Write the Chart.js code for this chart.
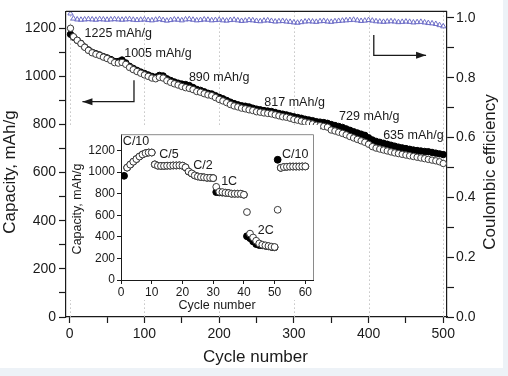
<!DOCTYPE html>
<html>
<head>
<meta charset="utf-8">
<script src="https://cdn.jsdelivr.net/npm/chart.js@4.4.1/dist/chart.umd.min.js"></script>
<style>
  html, body { margin: 0; padding: 0; background: #edf2f7; }
  #wrap { position: relative; width: 508px; height: 376px; overflow: hidden; }
  #main { position: absolute; left: 0; top: 0; }
  #inset { position: absolute; left: 70px; top: 125px; }
</style>
</head>
<body>
<div id="wrap">
  <canvas id="main" width="508" height="376"></canvas>
  <canvas id="inset" width="250" height="190"></canvas>
</div>
<script>
// ---- main plot data (every 5th cycle) ----
const cycles = [1,5,10,15,20,25,30,35,40,45,50,55,60,65,70,75,80,85,90,95,
  100,105,110,115,120,125,130,135,140,145,150,155,160,165,170,175,180,185,190,195,
  200,205,210,215,220,225,230,235,240,245,250,255,260,265,270,275,280,285,290,295,
  300,305,310,315,320,325,330,335,340,345,350,355,360,365,370,375,380,385,390,395,
  400,405,410,415,420,425,430,435,440,445,450,455,460,465,470,475,480,485,490,495,500];

const chargeCap = [1200,1165,1150,1136,1121,1108,1098,1092,1087,1080,
  1074,1066,1057,1055,1058,1050,1037,1028,1020,1013,
  1006,1000,993,990,996,993,982,975,969,964,
  958,953,950,945,937,934,928,923,920,912,
  904,898,891,883,877,873,868,865,861,858,
  853,851,848,846,844,840,836,832,830,826,
  821,818,814,810,806,802,797,795,792,789,
  777,773,768,763,757,750,744,738,732,726,
  718,708,702,698,694,690,686,682,679,676,
  673,670,667,664,661,658,655,652,649,645,
  638];

const dischargeCap = [1175,1163,1150,1137,1122,1110,1100,1094,1089,1082,
  1077,1070,1062,1062,1068,1056,1042,1033,1025,1018,
  1012,1006,1000,997,1004,1002,990,983,977,972,
  968,966,962,954,946,942,936,930,927,920,
  913,907,900,893,887,882,878,876,873,868,
  864,861,858,856,854,850,846,843,840,836,
  832,829,826,822,819,816,812,810,808,805,
  800,796,792,788,782,776,770,765,760,755,
  745,736,730,726,722,718,714,710,706,703,
  700,697,694,692,690,688,687,684,681,678,
  675];

const coulombicEff = [1.015,0.998,0.995,0.994,0.995,0.996,0.995,0.994,0.996,0.995,
  0.994,0.995,0.996,0.995,0.994,0.995,0.996,0.994,0.993,0.994,
  0.995,0.993,0.992,0.994,0.996,0.993,0.991,0.993,0.995,0.994,
  0.992,0.995,0.996,0.994,0.992,0.993,0.995,0.994,0.992,0.993,
  0.994,0.992,0.991,0.993,0.994,0.992,0.990,0.991,0.993,0.992,
  0.990,0.989,0.991,0.992,0.990,0.988,0.989,0.990,0.988,0.987,
  0.985,0.984,0.986,0.988,0.989,0.988,0.987,0.989,0.990,0.988,
  0.987,0.989,0.990,0.991,0.992,0.993,0.994,0.992,0.990,0.991,
  0.993,0.991,0.989,0.988,0.987,0.988,0.989,0.988,0.986,0.987,
  0.988,0.987,0.985,0.986,0.987,0.985,0.983,0.982,0.980,0.976,
  0.972];

const xMajor = [0,100,200,300,400,500];
const xMinor = [50,150,250,350,450];
const capMajor = [0,200,400,600,800,1000,1200];
const capMinor = [100,300,500,700,900,1100];
const ceMajor = [0,0.2,0.4,0.6,0.8,1.0];
const ceMinor = [0.1,0.3,0.5,0.7,0.9];

const capNotes = ['1225 mAh/g','1005 mAh/g','890 mAh/g','817 mAh/g','729 mAh/g','635 mAh/g'];

// ---- inset (rate test) data ----
const insetCycles = [1,2,3,4,5,6,7,8,9,10,11,12,13,14,15,16,17,18,19,20,
  21,22,23,24,25,26,27,28,29,30,31,32,33,34,35,36,37,38,39,40,
  41,42,43,44,45,46,47,48,49,50,51,52,53,54,55,56,57,58,59,60];
const insetCharge = [null,1042,1070,1097,1121,1145,1164,1176,1182,1182,
  1072,1060,1058,1058,1060,1060,1062,1062,1063,1060,
  1045,1006,988,970,960,955,952,948,948,945,
  864,818,815,809,806,800,800,800,800,791,
  630,430,394,364,339,327,321,315,309,306,
  651,1040,1048,1050,1052,1052,1052,1052,1053,1053];
const insetDischarge = [966,1042,1070,1097,1121,1145,1164,1176,1182,1182,
  1072,1060,1058,1058,1060,1060,1062,1062,1063,1060,
  1045,1006,988,970,960,955,952,948,948,945,
  815,812,810,809,806,800,800,800,800,791,
  406,388,358,333,324,322,317,312,307,303,
  1115,1040,1048,1050,1052,1052,1052,1052,1053,1053];
const insetXTicks = [0,10,20,30,40,50,60];
const insetYTicks = [0,200,400,600,800,1000,1200];
const rateNotes = ['C/10','C/5','C/2','1C','2C','C/10'];

// ---- placement of notes (data coordinates) ----
const capNotePos = [[65,1176],[118,1094],[200,995],[301,893],[401,831],[460,752]];
const rateNotePos = [[4.9,1282],[15.6,1166],[26.7,1061],[35.2,909],[47.1,461],[56.7,1166]];
const leftArrow = [[86,984],[86,895],[17,895]];      // cycle, capacity
const rightArrow = [[407,0.943],[407,0.875],[477,0.875]]; // cycle, CE

const FONT = "'Liberation Sans', Arial, sans-serif";
const INK = '#1a1a1a';

function pts(xs, ys) {
  return xs.map((x, i) => ({ x: x, y: ys[i] }));
}

function drawArrow(ctx, p) {
  ctx.beginPath();
  ctx.moveTo(p[0][0], p[0][1]);
  for (let i = 1; i < p.length; i++) ctx.lineTo(p[i][0], p[i][1]);
  ctx.stroke();
  const [x1, y1] = p[p.length - 2], [x2, y2] = p[p.length - 1];
  const a = Math.atan2(y2 - y1, x2 - x1);
  ctx.beginPath();
  ctx.moveTo(x2, y2);
  ctx.lineTo(x2 - 10 * Math.cos(a) + 3.5 * Math.sin(a), y2 - 10 * Math.sin(a) - 3.5 * Math.cos(a));
  ctx.lineTo(x2 - 10 * Math.cos(a) - 3.5 * Math.sin(a), y2 - 10 * Math.sin(a) + 3.5 * Math.cos(a));
  ctx.closePath();
  ctx.fill();
}

function vText(ctx, txt, x, y) {
  ctx.save();
  ctx.translate(x, y);
  ctx.rotate(-Math.PI / 2);
  ctx.fillText(txt, 0, 0);
  ctx.restore();
}

const mainDecor = {
  id: 'mainDecor',
  beforeDraw(chart) {
    const ctx = chart.ctx;
    ctx.save();
    ctx.fillStyle = '#edf2f7';
    ctx.fillRect(0, 0, chart.width, chart.height);
    ctx.fillStyle = '#ffffff';
    ctx.fillRect(0, 0, 503, 368);
    ctx.restore();
  },
  beforeDatasetsDraw(chart) {
    const ctx = chart.ctx, a = chart.chartArea, sx = chart.scales.x;
    ctx.save();
    ctx.strokeStyle = '#c4c4c4';
    ctx.lineWidth = 1;
    ctx.setLineDash([1.5, 2.5]);
    xMajor.forEach(v => {
      const px = Math.round(sx.getPixelForValue(v)) + 0.5;
      ctx.beginPath();
      ctx.moveTo(px, a.top);
      ctx.lineTo(px, a.bottom);
      ctx.stroke();
    });
    ctx.restore();
  },
  afterDraw(chart) {
    const ctx = chart.ctx, a = chart.chartArea;
    const sx = chart.scales.x, sy = chart.scales.y, s2 = chart.scales.y2;
    ctx.save();
    ctx.strokeStyle = INK;
    ctx.lineWidth = 1.2;
    ctx.beginPath();
    ctx.moveTo(a.left, a.top);
    ctx.lineTo(a.right, a.top);
    ctx.stroke();

    ctx.fillStyle = INK;
    ctx.font = '12.5px ' + FONT;
    ctx.textAlign = 'center';
    ctx.textBaseline = 'middle';
    capNotes.forEach((t, i) => {
      ctx.fillText(t, sx.getPixelForValue(capNotePos[i][0]), sy.getPixelForValue(capNotePos[i][1]));
    });

    ctx.lineWidth = 1.3;
    drawArrow(ctx, leftArrow.map(p => [sx.getPixelForValue(p[0]), sy.getPixelForValue(p[1])]));
    drawArrow(ctx, rightArrow.map(p => [sx.getPixelForValue(p[0]), s2.getPixelForValue(p[1])]));

    ctx.font = '17px ' + FONT;
    ctx.fillText('Cycle number', (a.left + a.right) / 2 - 1, 357);
    vText(ctx, 'Capacity, mAh/g', 10, 172);
    vText(ctx, 'Coulombic efficiency', 490, 172);
    ctx.restore();
  }
};

const insetDecor = {
  id: 'insetDecor',
  beforeDraw(chart) {
    const ctx = chart.ctx;
    ctx.save();
    ctx.fillStyle = '#ffffff';
    ctx.fillRect(0, 0, chart.width, 175);
    ctx.restore();
  },
  afterDraw(chart) {
    const ctx = chart.ctx, a = chart.chartArea;
    const sx = chart.scales.x, sy = chart.scales.y;
    ctx.save();
    ctx.strokeStyle = '#8a8a8a';
    ctx.lineWidth = 1;
    ctx.beginPath();
    ctx.moveTo(a.left, a.top + 0.5);
    ctx.lineTo(a.right + 0.5, a.top + 0.5);
    ctx.lineTo(a.right + 0.5, a.bottom);
    ctx.stroke();

    ctx.fillStyle = INK;
    ctx.font = '12.5px ' + FONT;
    ctx.textAlign = 'center';
    ctx.textBaseline = 'middle';
    rateNotes.forEach((t, i) => {
      ctx.fillText(t, sx.getPixelForValue(rateNotePos[i][0]), sy.getPixelForValue(rateNotePos[i][1]));
    });
    ctx.fillText('Cycle number', (a.left + a.right) / 2, 181);
    vText(ctx, 'Capacity, mAh/g', 8, 84);
    ctx.restore();
  }
};

const tickFont = { family: FONT, size: 14 };

new Chart(document.getElementById('main'), {
  type: 'scatter',
  data: {
    datasets: [
      { label: 'charge', data: pts(cycles, chargeCap), yAxisID: 'y',
        pointRadius: 3.2, pointBackgroundColor: '#ffffff', pointBorderColor: '#3a3a3a', pointBorderWidth: 1 },
      { label: 'discharge', data: pts(cycles, dischargeCap), yAxisID: 'y',
        pointRadius: 3.2, pointBackgroundColor: '#000000', pointBorderColor: '#000000', pointBorderWidth: 1 },
      { label: 'CE', data: pts(cycles, coulombicEff), yAxisID: 'y2', pointStyle: 'triangle',
        pointRadius: 3, pointBackgroundColor: 'rgba(255,255,255,0)', pointBorderColor: '#6f6fc8', pointBorderWidth: 1 }
    ]
  },
  options: {
    responsive: false,
    animation: false,
    events: [],
    layout: { padding: { top: 6, left: 0, right: 0, bottom: 0 } },
    plugins: { legend: { display: false }, tooltip: { enabled: false } },
    scales: {
      x: {
        type: 'linear', min: -5, max: 505,
        afterBuildTicks: s => { s.ticks = xMajor.concat(xMinor).sort((a, b) => a - b).map(v => ({ value: v })); },
        afterFit: s => { s.height = 59; },
        grid: { drawOnChartArea: false, tickLength: 6, tickColor: INK, tickWidth: 1.2 },
        border: { color: INK, width: 1.2 },
        ticks: { autoSkip: false, maxRotation: 0, padding: 3, color: INK, font: tickFont,
          callback: v => xMajor.includes(v) ? String(v) : '' }
      },
      y: {
        position: 'left', min: 0, max: 1270,
        afterBuildTicks: s => { s.ticks = capMajor.concat(capMinor).sort((a, b) => a - b).map(v => ({ value: v })); },
        afterFit: s => { s.width = 66; },
        grid: { drawOnChartArea: false, tickLength: 7, tickColor: INK, tickWidth: 1.2 },
        border: { color: INK, width: 1.2 },
        ticks: { autoSkip: false, padding: 3, color: INK, font: tickFont,
          callback: v => capMajor.includes(v) ? String(v) : '' }
      },
      y2: {
        position: 'right', min: 0, max: 1.022,
        afterBuildTicks: s => { s.ticks = ceMajor.concat(ceMinor).sort((a, b) => a - b).map(v => ({ value: v })); },
        afterFit: s => { s.width = 61; },
        grid: { drawOnChartArea: false, tickLength: 7, tickColor: INK, tickWidth: 1.2 },
        border: { color: INK, width: 1.2 },
        ticks: { autoSkip: false, padding: 2, color: INK, font: tickFont,
          callback: v => ceMajor.includes(v) ? v.toFixed(1) : '' }
      }
    }
  },
  plugins: [mainDecor]
});

const insetFont = { family: FONT, size: 12 };

new Chart(document.getElementById('inset'), {
  type: 'scatter',
  data: {
    datasets: [
      { label: 'charge', data: pts(insetCycles, insetCharge),
        pointRadius: 3.4, pointBackgroundColor: '#ffffff', pointBorderColor: '#3a3a3a', pointBorderWidth: 1 },
      { label: 'discharge', data: pts(insetCycles, insetDischarge),
        pointRadius: 3.4, pointBackgroundColor: '#000000', pointBorderColor: '#000000', pointBorderWidth: 1 }
    ]
  },
  options: {
    responsive: false,
    animation: false,
    events: [],
    layout: { padding: { top: 6, left: 0, right: 7, bottom: 0 } },
    plugins: { legend: { display: false }, tooltip: { enabled: false } },
    scales: {
      x: {
        type: 'linear', min: 0, max: 62.5,
        afterBuildTicks: s => { s.ticks = insetXTicks.map(v => ({ value: v })); },
        afterFit: s => { s.height = 35; },
        grid: { drawOnChartArea: false, tickLength: 4, tickColor: INK },
        border: { color: INK, width: 1 },
        ticks: { autoSkip: false, maxRotation: 0, padding: 1, color: INK, font: insetFont,
          callback: v => String(v) }
      },
      y: {
        min: 0, max: 1352,
        afterBuildTicks: s => { s.ticks = insetYTicks.map(v => ({ value: v })); },
        afterFit: s => { s.width = 51; },
        grid: { drawOnChartArea: false, tickLength: 4, tickColor: INK },
        border: { color: INK, width: 1 },
        ticks: { autoSkip: false, padding: 2, color: INK, font: insetFont,
          callback: v => String(v) }
      }
    }
  },
  plugins: [insetDecor]
});
</script>
</body>
</html>
